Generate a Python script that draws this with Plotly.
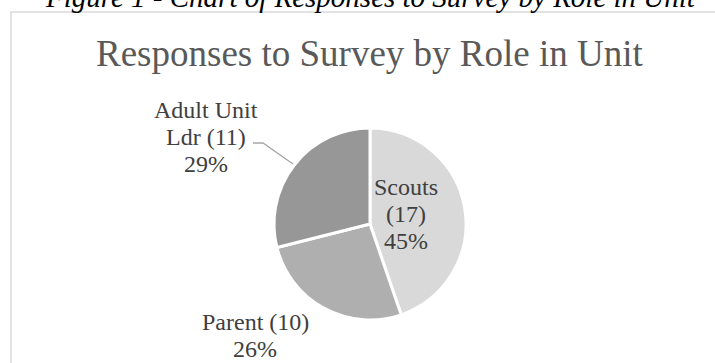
import plotly.graph_objects as go

# Survey responses by role in the unit
roles = ["Scouts", "Parent", "Adult Unit Ldr"]
counts = [17, 10, 11]
colors = ["#d9d9d9", "#afafaf", "#979797"]

W, H = 715, 363
total = sum(counts)
pcts = [round(100 * c / total) for c in counts]


def px_x(x):
    return x / W


def px_y(y):
    return 1 - y / H


fig = go.Figure()

# Pie centred at (370, 224) with radius ~96 px
cx, cy, r = 370, 224, 96
fig.add_trace(go.Pie(
    labels=roles,
    values=counts,
    sort=False,
    direction="clockwise",
    rotation=0,
    marker=dict(colors=colors, line=dict(color="white", width=3)),
    textinfo="none",
    hoverinfo="label+value+percent",
    showlegend=False,
    domain=dict(x=[px_x(cx - r), px_x(cx + r)], y=[px_y(cy + r), px_y(cy - r)]),
))

# Data label lines, wrapped per slice
label_lines = {
    "Scouts": ["Scouts", f"({counts[0]})", f"{pcts[0]}%"],
    "Parent": [f"Parent ({counts[1]})", f"{pcts[1]}%"],
    "Adult Unit Ldr": ["Adult Unit", f"Ldr ({counts[2]})", f"{pcts[2]}%"],
}
# (centre x, first baseline y) in pixels
label_pos = {
    "Scouts": (406, 195),
    "Parent": (255, 330),
    "Adult Unit Ldr": (206, 118),
}
line_gap = 27
lab_size = 24
lab_font = dict(family="Liberation Serif", size=lab_size, color="#404040")
for role in roles:
    x, y0 = label_pos[role]
    for i, line in enumerate(label_lines[role]):
        base = y0 + i * line_gap
        fig.add_annotation(
            x=px_x(x), y=px_y(base - 8), xref="paper", yref="paper",
            text=line, showarrow=False, align="center",
            xanchor="center", yanchor="middle", font=lab_font,
        )

# Leader line for the Adult Unit Ldr label
fig.add_shape(
    type="path", xref="paper", yref="paper",
    path=f"M {px_x(253)},{px_y(143)} L {px_x(263)},{px_y(143)} L {px_x(293)},{px_y(164)}",
    line=dict(color="#a6a6a6", width=1.3),
)

# Chart frame
fig.add_shape(
    type="rect", xref="paper", yref="paper",
    x0=px_x(11), y0=px_y(380), x1=px_x(740), y1=px_y(12),
    line=dict(color="#d9d9d9", width=1.5), fillcolor="rgba(0,0,0,0)",
)

# Chart title
fig.add_annotation(
    x=px_x(369), y=px_y(54), xref="paper", yref="paper",
    text="Responses to Survey by Role in Unit", showarrow=False,
    xanchor="center", yanchor="middle",
    font=dict(family="Liberation Serif", size=37, color="#595959"),
)

# Figure caption
fig.add_annotation(
    x=px_x(370), y=px_y(-3), xref="paper", yref="paper",
    text="<i>Figure 1 - Chart of Responses to Survey by Role in Unit</i>",
    showarrow=False, xanchor="center", yanchor="middle",
    font=dict(family="Liberation Serif", size=29, color="#000000"),
)

fig.update_layout(
    width=W, height=H,
    margin=dict(l=0, r=0, t=0, b=0),
    paper_bgcolor="white", plot_bgcolor="white",
)

fig.write_html("out.html")
